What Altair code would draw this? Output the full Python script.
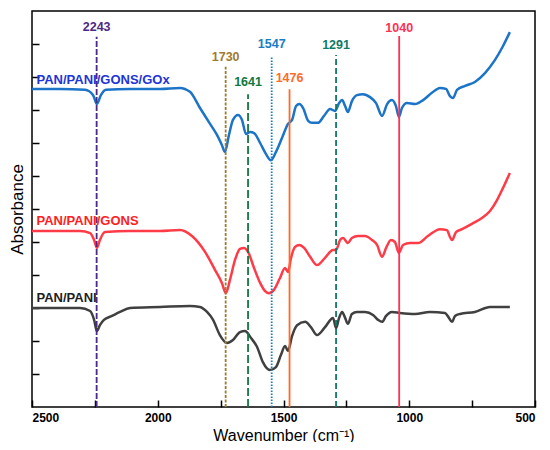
import altair as alt
import pandas as pd

# ---- spectra (wavenumber, absorbance in arbitrary units) ----
wn_gox = [2500, 2389, 2289, 2257, 2242, 2226, 2206, 2110, 1991, 1912, 1872, 1832, 1792, 1764, 1745, 1733,
          1717, 1701, 1681, 1665, 1649, 1633, 1617, 1593, 1570, 1550, 1530, 1506, 1482, 1466, 1450, 1437,
          1422, 1402, 1387, 1363, 1339, 1315, 1295, 1279, 1267, 1255, 1244, 1228, 1208, 1184, 1156, 1132,
          1108, 1088, 1069, 1053, 1041, 1029, 1009, 977, 945, 910, 878, 854, 838, 826, 810, 778, 739, 699,
          659, 627, 600]
ab_gox = [9.64, 9.64, 9.61, 9.45, 9.18, 9.45, 9.61, 9.64, 9.64, 9.67, 9.55, 9.06, 8.58, 8.24, 7.94, 7.73,
          8.24, 8.70, 8.85, 8.70, 8.27, 8.33, 8.30, 8.00, 7.67, 7.48, 7.73, 8.15, 8.58, 8.70, 9.12, 9.18,
          9.06, 8.67, 8.61, 8.61, 8.82, 9.03, 8.97, 9.21, 9.30, 9.12, 8.94, 9.27, 9.45, 9.48, 9.39, 9.21,
          8.82, 9.18, 9.30, 9.12, 8.79, 9.06, 9.21, 9.18, 9.30, 9.52, 9.67, 9.64, 9.42, 9.36, 9.61, 9.73,
          9.85, 10.12, 10.52, 10.94, 11.36]

wn_gons = [2500, 2309, 2269, 2253, 2242, 2230, 2210, 2110, 1991, 1912, 1864, 1812, 1772, 1745, 1729, 1713,
           1693, 1673, 1657, 1641, 1617, 1593, 1574, 1558, 1538, 1514, 1494, 1482, 1470, 1454, 1437, 1418,
           1394, 1367, 1335, 1303, 1291, 1275, 1263, 1244, 1228, 1204, 1176, 1148, 1128, 1108, 1092, 1073,
           1057, 1041, 1025, 997, 965, 926, 878, 850, 838, 830, 814, 790, 751, 711, 679, 651, 627, 600]
ab_gons = [5.33, 5.33, 5.27, 5.06, 4.82, 5.06, 5.30, 5.33, 5.33, 5.36, 5.18, 4.70, 4.15, 3.76, 3.45, 3.85,
           4.45, 4.79, 4.82, 4.70, 4.21, 3.76, 3.52, 3.45, 3.55, 3.91, 4.21, 4.09, 4.52, 4.85, 4.91, 4.82,
           4.55, 4.30, 4.52, 4.76, 4.76, 5.06, 5.12, 4.97, 5.12, 5.18, 5.18, 5.06, 4.91, 4.55, 4.82, 5.06,
           5.00, 4.67, 4.91, 4.97, 4.97, 5.18, 5.39, 5.36, 5.15, 5.06, 5.30, 5.39, 5.55, 5.73, 5.94, 6.27,
           6.64, 7.09]

wn_pani = [2500, 2309, 2269, 2253, 2242, 2230, 2214, 2182, 2150, 2110, 1991, 1872, 1832, 1804, 1780, 1753,
           1725, 1701, 1673, 1653, 1629, 1605, 1582, 1554, 1530, 1510, 1494, 1482, 1466, 1446, 1414, 1391,
           1367, 1335, 1303, 1291, 1279, 1267, 1255, 1244, 1228, 1208, 1176, 1144, 1124, 1108, 1092, 1069,
           1037, 977, 918, 858, 842, 830, 818, 798, 739, 679, 600]
ab_pani = [3.00, 3.00, 2.91, 2.64, 2.30, 2.48, 2.64, 2.76, 2.88, 3.00, 3.03, 3.06, 3.03, 2.88, 2.64, 2.18,
           1.94, 2.03, 2.27, 2.30, 2.09, 1.82, 1.36, 1.12, 1.21, 1.58, 1.85, 1.70, 2.15, 2.48, 2.58, 2.42,
           2.18, 2.42, 2.70, 2.39, 2.70, 2.88, 2.70, 2.52, 2.82, 2.88, 2.88, 2.79, 2.64, 2.58, 2.76, 2.88,
           2.85, 2.82, 2.88, 2.85, 2.70, 2.58, 2.76, 2.82, 2.88, 3.03, 3.03]

series_names = ["PAN/PANI/GONS/GOx", "PAN/PANI/GONS", "PAN/PANI"]
series_colors = ["#1B74C8", "#FF3B47", "#404040"]
label_colors = ["#1E35D6", "#FF1E1E", "#1E1E1E"]
label_wn = [2482, 2482, 2482]
label_ab = [9.91, 5.63, 3.30]

# ---- band markers ----
peak_wn = [2243, 1730, 1641, 1547, 1476, 1291, 1040]
peak_top = [11.22, 10.31, 9.48, 10.62, 9.63, 10.67, 11.24]
peak_label_y = [11.52, 10.62, 9.86, 11.0, 9.96, 10.97, 11.47]
peak_colors = ["#4B2A84", "#9E7B2E", "#12783E", "#1A7CC4", "#FF6A2A", "#0F7A68", "#FF3052"]
peak_dash = [[6, 2], [3, 1.5], [8, 3], [1.5, 1.5], [1, 0], [6, 3], [1, 0]]

x_major = [2500, 2000, 1500, 1000, 500]
x_minor = [2500, 2250, 2000, 1750, 1500, 1250, 1000, 750, 500]
y_ticks = [1, 2, 3, 4, 5, 6, 7, 8, 9, 10, 11]

rows = []
for name, xs, ys in zip(series_names, [wn_gox, wn_gons, wn_pani], [ab_gox, ab_gons, ab_pani]):
    for x, y in zip(xs, ys):
        rows.append({"series": name, "wn": x, "ab": y})
curves = pd.DataFrame(rows)

labels_df = pd.DataFrame({"series": series_names, "wn": label_wn, "ab": label_ab})
peaks = pd.DataFrame({"wn": peak_wn, "top": peak_top, "ly": peak_label_y,
                      "lab": [str(w) for w in peak_wn], "base": [0] * len(peak_wn)})
lab_domain = [str(w) for w in peak_wn]

PW, PH = 503, 396
xscale = alt.Scale(domain=[500, 2500], reverse=True, nice=False, zero=False)
yscale = alt.Scale(domain=[0, 12], nice=False, zero=False)

curve_layer = alt.Chart(curves).mark_line(strokeWidth=2.5, interpolate="monotone").encode(
    x=alt.X("wn:Q", scale=xscale,
            axis=alt.Axis(orient="bottom", values=x_major, format="d", tickSize=0, domain=False, grid=False,
                          labelFontWeight="bold", labelFontSize=12, labelPadding=5, labelColor="black",
                          labelFont="Liberation Sans",
                          title="Wavenumber (cm⁻¹)", titleFontSize=16, titleFontWeight="normal",
                          titleFont="Liberation Sans", titleColor="black", titlePadding=4)),
    y=alt.Y("ab:Q", scale=yscale,
            axis=alt.Axis(orient="left", labels=False, ticks=False, domain=False, grid=False,
                          title="Absorbance", titleFontSize=17, titleFontWeight="normal",
                          titleFont="Liberation Sans", titleColor="black", titlePadding=6)),
    color=alt.Color("series:N", scale=alt.Scale(domain=series_names, range=series_colors), legend=None),
)

rule_layer = alt.Chart(peaks).mark_rule(strokeWidth=1.8).encode(
    x=alt.X("wn:Q", scale=xscale,
            axis=alt.Axis(orient="top", offset=-PH, values=x_minor, labels=False, tickSize=7,
                          tickWidth=1.5, tickColor="black", domain=False, grid=False, title="")),
    y=alt.Y("base:Q", scale=yscale,
            axis=alt.Axis(orient="right", offset=-PW, values=y_ticks, labels=False, tickSize=7,
                          tickWidth=1.5, tickColor="black", domain=False, grid=False, title="")),
    y2="top:Q",
    color=alt.Color("lab:N", scale=alt.Scale(domain=lab_domain, range=peak_colors), legend=None),
    strokeDash=alt.StrokeDash("lab:N", scale=alt.Scale(domain=lab_domain, range=peak_dash), legend=None),
)

peak_text = alt.Chart(peaks).mark_text(fontWeight="bold", fontSize=12.5, font="Liberation Sans",
                                       align="center", baseline="middle").encode(
    x=alt.X("wn:Q", scale=xscale, axis=None),
    y=alt.Y("ly:Q", scale=yscale, axis=None),
    text="lab:N",
    color=alt.Color("lab:N", scale=alt.Scale(domain=lab_domain, range=peak_colors), legend=None),
)

series_text = alt.Chart(labels_df).mark_text(fontWeight="bold", fontSize=13, font="Liberation Sans",
                                             align="left", baseline="middle").encode(
    x=alt.X("wn:Q", scale=xscale, axis=None),
    y=alt.Y("ab:Q", scale=yscale, axis=None),
    text="series:N",
    color=alt.Color("series:N", scale=alt.Scale(domain=series_names, range=label_colors), legend=None),
)

chart = alt.layer(curve_layer, rule_layer, peak_text, series_text).resolve_scale(
    color="independent", strokeDash="independent"
).resolve_axis(x="independent", y="independent").properties(
    width=PW, height=PH,
    autosize=alt.AutoSizeParams(type="none"),
    padding={"left": 24, "top": 3, "right": 7, "bottom": 35},
    background="white",
).configure_view(stroke="black", strokeWidth=1.5).configure_legend(disable=True)

chart.save("out.html", embed_options={"renderer": "svg", "actions": False})
